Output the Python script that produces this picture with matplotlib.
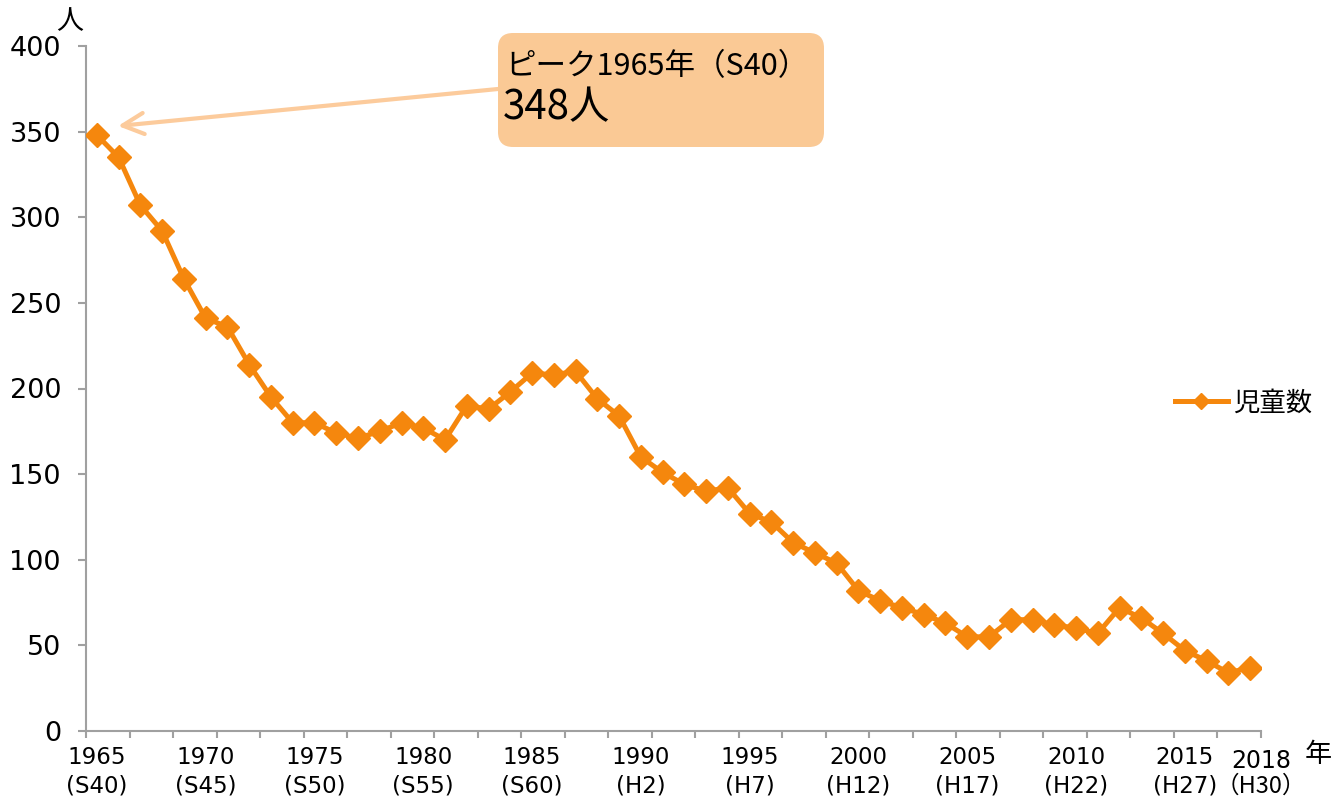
import matplotlib
matplotlib.use("Agg")
import matplotlib.pyplot as plt
import numpy as np
from matplotlib.patches import FancyBboxPatch

plt.rcParams['font.family'] = ['DejaVu Sans', 'Noto Sans CJK JP']

years = list(range(1965, 2019))
children = [348, 335, 307, 292, 264, 241, 236, 214, 195, 180,
            180, 174, 171, 175, 180, 177, 170, 190, 188, 198,
            209, 208, 210, 194, 184, 160, 151, 144, 140, 142,
            127, 122, 110, 104, 98, 82, 76, 72, 68, 63,
            55, 55, 65, 65, 62, 60, 57, 72, 66, 57,
            47, 41, 34, 37]
label_years = [1965, 1970, 1975, 1980, 1985, 1990, 1995, 2000, 2005, 2010, 2015]
label_eras = ['(S40)', '(S45)', '(S50)', '(S55)', '(S60)', '(H2)', '(H7)',
              '(H12)', '(H17)', '(H22)', '(H27)']
last_year_label = '2018'
last_era_label = '（H30）'
yticks = [0, 50, 100, 150, 200, 250, 300, 350, 400]

W, H = 1335, 796
fig = plt.figure(figsize=(W / 100, H / 100), dpi=100)
ax = fig.add_axes([86 / W, (H - 731) / H, (1261 - 86) / W, (731 - 46) / H])

line_color = '#F5870D'
gray = '#A0A0A0'
num_font = ['DejaVu Sans']
x = np.arange(len(years))
ax.plot(x, children, color=line_color, lw=3.6, marker='D', ms=12,
        mec=line_color, mfc=line_color, label='児童数', zorder=3)

ax.set_xlim(-0.5, len(years) - 0.5)
ax.set_ylim(0, 400)
ax.set_yticks(yticks)
ax.set_yticklabels([str(v) for v in yticks], fontsize=19.5, family=num_font)
ax.set_xticks(np.arange(-0.5, len(years), 2))
ax.set_xticklabels([])
for s in ['top', 'right']:
    ax.spines[s].set_visible(False)
for s in ['left', 'bottom']:
    ax.spines[s].set_color(gray)
    ax.spines[s].set_linewidth(1.5)
ax.tick_params(axis='y', length=6, width=1.5, color=gray, pad=12)
ax.tick_params(axis='x', length=5, width=1.5, color=gray)

xt = ax.get_xaxis_transform()
y1 = (731 - 757) / 685
y2 = (731 - 786) / 685
for yr, era in zip(label_years, label_eras):
    i = years.index(yr)
    ax.text(i, y1, str(yr), transform=xt, ha='center', va='center',
            fontsize=16.5, family=num_font)
    ax.text(i, y2, era, transform=xt, ha='center', va='center',
            fontsize=16.5, family=num_font)
ax.text(len(years) - 0.5, (731 - 761) / 685, last_year_label, transform=xt,
        ha='center', va='center', fontsize=17, family=num_font)
ax.text(len(years) - 0.5, (731 - 786) / 685, last_era_label, transform=xt,
        ha='center', va='center', fontsize=17, family=['Noto Sans CJK JP'])

fig.text(70 / W, 1 - 22 / H, '人', ha='center', va='center', fontsize=19.5,
         family=['Noto Sans CJK JP'])
fig.text(1318 / W, 1 - 755 / H, '年', ha='center', va='center', fontsize=19.5,
         family=['Noto Sans CJK JP'])

leg = fig.legend(loc='center left', bbox_to_anchor=(1175 / W, 1 - 403 / H),
                 frameon=False, handlelength=2.0, handletextpad=0.2,
                 borderpad=0, borderaxespad=0, markerscale=0.7,
                 prop={'family': ['Noto Sans CJK JP'], 'size': 19})

# annotation box
box = FancyBboxPatch((4.98, (H - 147) / 100), 3.26, 1.14,
                     boxstyle='round,pad=0,rounding_size=0.15',
                     transform=fig.dpi_scale_trans, facecolor='#FAC995',
                     edgecolor='none', zorder=5)
fig.patches.append(box)
ax.annotate('', xy=(118, H - 126), xytext=(498, H - 89),
            xycoords='figure pixels', textcoords='figure pixels',
            arrowprops=dict(arrowstyle='->', color='#FCCB9C', lw=3,
                            mutation_scale=38, shrinkA=0, shrinkB=0),
            zorder=4)
fig.text(505 / W, 1 - 67 / H, 'ピーク1965年（S40）', ha='left', va='center',
         fontsize=22, family=['Noto Sans CJK JP'], zorder=6)
fig.text(503 / W, 1 - 108 / H, '348人', ha='left', va='center',
         fontsize=29, family=['Noto Sans CJK JP'], zorder=6)

fig.savefig('out.png', dpi=100)
